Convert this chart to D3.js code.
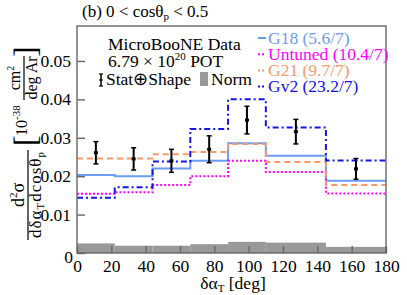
<!DOCTYPE html>
<html><head><meta charset="utf-8">
<script src="https://cdn.jsdelivr.net/npm/d3@7"></script>
<style>body{margin:0;background:#fff}svg{display:block}text{font-family:"Liberation Serif","Times New Roman",serif}</style>
</head><body><svg id="c" width="407" height="295"></svg>
<script>
const binEdges = [0, 22, 44, 66, 88, 110, 145, 180];
const dataVals = [0.0261, 0.0245, 0.0240, 0.0270, 0.0346, 0.0316, 0.0219];
const dataErr  = [0.0029, 0.0029, 0.0030, 0.0035, 0.0036, 0.0032, 0.0027];
const g18      = [0.0203, 0.0200, 0.0220, 0.0240, 0.0286, 0.0253, 0.0188];
const untuned  = [0.0154, 0.0158, 0.0177, 0.0200, 0.0240, 0.0211, 0.0155];
const g21      = [0.0246, 0.0246, 0.0257, 0.0263, 0.0284, 0.0237, 0.0177];
const gv2      = [0.0144, 0.0171, 0.0238, 0.0323, 0.0400, 0.0327, 0.0241];
const normVals = [0.0025, 0.0019, 0.0019, 0.0023, 0.0029, 0.0027, 0.0016];
const xTicks = [0, 20, 40, 60, 80, 100, 120, 140, 160, 180];
const yTicks = [0, 0.01, 0.02, 0.03, 0.04, 0.05];
const yTickLabels = ["0", "0.01", "0.02", "0.03", "0.04", "0.05"];
const series = [
  {name: "G18 (5.6/7)", vals: g18, color: "#6b9cf0", dash: null},
  {name: "Untuned (10.4/7)", vals: untuned, color: "#ff00ff", dash: "2,2"},
  {name: "G21 (9.7/7)", vals: g21, color: "#f79a6a", dash: "6,4"},
  {name: "Gv2 (23.2/7)", vals: gv2, color: "#1414e6", dash: "6,3,2,3"}
];

const FS = 17.5;
const svg = d3.select("#c");
const L = 77, R = 386, T = 26, B = 253;
const x = d3.scaleLinear().domain([0, 180]).range([L, R]);
const y = d3.scaleLinear().domain([0, 0.0591]).range([B, T]);

// norm bars
svg.append("g").selectAll("rect").data(normVals).join("rect")
  .attr("x", (d, i) => x(binEdges[i])).attr("width", (d, i) => x(binEdges[i + 1]) - x(binEdges[i]))
  .attr("y", d => y(d)).attr("height", d => y(0) - y(d)).attr("fill", "#999");

// step lines
const line = d3.line().x(d => x(d[0])).y(d => y(d[1])).curve(d3.curveStepAfter);
series.forEach(s => {
  const pts = s.vals.map((v, i) => [binEdges[i], v]);
  pts.push([binEdges[binEdges.length - 1], s.vals[s.vals.length - 1]]);
  svg.append("path").attr("d", line(pts)).attr("fill", "none")
    .attr("stroke", s.color).attr("stroke-width", 2)
    .attr("stroke-dasharray", s.dash);
});

// data points
const dg = svg.append("g");
dataVals.forEach((v, i) => {
  const cx = x((binEdges[i] + binEdges[i + 1]) / 2);
  dg.append("line").attr("x1", cx).attr("x2", cx).attr("y1", y(v - dataErr[i])).attr("y2", y(v + dataErr[i]))
    .attr("stroke", "#000").attr("stroke-width", 2);
  [v - dataErr[i], v + dataErr[i]].forEach(e => {
    dg.append("line").attr("x1", cx - 2.5).attr("x2", cx + 2.5).attr("y1", y(e)).attr("y2", y(e))
      .attr("stroke", "#000").attr("stroke-width", 1.5);
  });
  dg.append("rect").attr("x", cx - 2).attr("y", y(v) - 1.5).attr("width", 4).attr("height", 3).attr("fill", "#000");
});

// frame
svg.append("rect").attr("x", L).attr("y", T).attr("width", R - L).attr("height", B - T)
  .attr("fill", "none").attr("stroke", "#666").attr("stroke-width", 1.4);

// axes ticks (inward)
const ax = svg.append("g").attr("transform", `translate(0,${B})`).attr("font-family", null)
  .call(d3.axisBottom(x).tickValues(xTicks).tickSize(-7).tickPadding(7).tickFormat(d3.format("d")));
ax.select(".domain").remove();
ax.selectAll(".tick line").attr("stroke", "#666").attr("stroke-width", 1.4);
ax.selectAll(".tick text").style("font-size", FS + "px").style("font-family", "'Liberation Serif', serif").attr("fill", "#000");

const ay = svg.append("g").attr("transform", `translate(${L},0)`)
  .call(d3.axisLeft(y).tickValues(yTicks).tickSize(-8).tickPadding(6).tickFormat((d, i) => yTickLabels[i]));
ay.select(".domain").remove();
ay.selectAll(".tick line").attr("stroke", "#666").attr("stroke-width", 1.4);
ay.selectAll(".tick text").style("font-size", FS + "px").style("font-family", "'Liberation Serif', serif").attr("fill", "#000");
ay.selectAll(".tick").filter(d => d === 0).select("text").attr("dy", "0.55em").attr("x", -4);

// title
const tt = svg.append("text").attr("x", 82).attr("y", 17).style("font-size", "17px");
tt.append("tspan").text("(b) 0 < cosθ");
tt.append("tspan").style("font-size", "11px").attr("dy", 3).text("p");
tt.append("tspan").attr("dy", -3).text(" < 0.5");

// x label
const xl = svg.append("text").attr("x", 233).attr("y", 289).style("font-size", FS + "px").attr("text-anchor", "middle");
xl.append("tspan").text("δα");
xl.append("tspan").style("font-size", "11px").attr("dy", 3).text("T");
xl.append("tspan").attr("dy", -3).text(" [deg]");

// y label (rotated: text x = -pageY, text y = pageX)
const yl = svg.append("g").attr("transform", "rotate(-90)");
yl.append("line").attr("x1", -240).attr("x2", -150).attr("y1", 28).attr("y2", 28).attr("stroke", "#000").attr("stroke-width", 1.2);
const num = yl.append("text").attr("x", -195).attr("y", 24).style("font-size", "18px").attr("text-anchor", "middle");
num.append("tspan").text("d");
num.append("tspan").style("font-size", "11px").attr("dy", -7).text("2");
num.append("tspan").attr("dy", 7).text("σ");
const den = yl.append("text").attr("x", -195).attr("y", 41).style("font-size", "17px").attr("text-anchor", "middle")
  .attr("textLength", 86).attr("lengthAdjust", "spacing");
den.append("tspan").text("dδα");
den.append("tspan").style("font-size", "11px").attr("dy", 3).text("T");
den.append("tspan").attr("dy", -3).text("dcosθ");
den.append("tspan").style("font-size", "11px").attr("dy", 3).text("p");
yl.append("text").attr("x", -146).attr("y", 36).style("font-size", "32px").text("[");
const ex = yl.append("text").attr("x", -136).attr("y", 27).style("font-size", "16px");
ex.append("tspan").text("10");
ex.append("tspan").style("font-size", "11px").attr("dy", -7).text("-38");
yl.append("line").attr("x1", -100).attr("x2", -56).attr("y1", 24).attr("y2", 24).attr("stroke", "#000").attr("stroke-width", 1.2);
const cm = yl.append("text").attr("x", -78).attr("y", 20).style("font-size", "16px").attr("text-anchor", "middle");
cm.append("tspan").text("cm");
cm.append("tspan").style("font-size", "10px").attr("dy", -6).text("2");
yl.append("text").attr("x", -78).attr("y", 37).style("font-size", "16px").attr("text-anchor", "middle").text("deg Ar");
yl.append("text").attr("x", -57).attr("y", 36).style("font-size", "32px").text("]");

// legend left
svg.append("text").attr("x", 108).attr("y", 50).style("font-size", FS + "px").text("MicroBooNE Data");
const pot = svg.append("text").attr("x", 108).attr("y", 67).style("font-size", FS + "px");
pot.append("tspan").text("6.79 × 10");
pot.append("tspan").style("font-size", "11px").attr("dy", -7).text("20");
pot.append("tspan").attr("dy", 7).text(" POT");
const lx = 101;
svg.append("line").attr("x1", lx).attr("x2", lx).attr("y1", 74).attr("y2", 86).attr("stroke", "#000").attr("stroke-width", 1.5);
[74, 86].forEach(yy => svg.append("line").attr("x1", lx - 2).attr("x2", lx + 2).attr("y1", yy).attr("y2", yy).attr("stroke", "#000").attr("stroke-width", 1.2));
svg.append("rect").attr("x", lx - 1.5).attr("y", 79).attr("width", 3).attr("height", 2).attr("fill", "#000");
svg.append("text").attr("x", 106).attr("y", 85).style("font-size", FS + "px").text("Stat⊕Shape");
svg.append("rect").attr("x", 200).attr("y", 72).attr("width", 8).attr("height", 14).attr("fill", "#999");
svg.append("text").attr("x", 211).attr("y", 85).style("font-size", FS + "px").text("Norm");

// legend right
series.forEach((s, i) => {
  const yy = 38 + i * 16.2;
  svg.append("line").attr("x1", 258).attr("x2", 266).attr("y1", yy).attr("y2", yy)
    .attr("stroke", s.color).attr("stroke-width", 2).attr("stroke-dasharray", s.dash ? "2,2" : null);
  svg.append("text").attr("x", 268).attr("y", yy + 5.5).style("font-size", FS + "px").attr("fill", s.color).text(s.name);
});
</script></body></html>
